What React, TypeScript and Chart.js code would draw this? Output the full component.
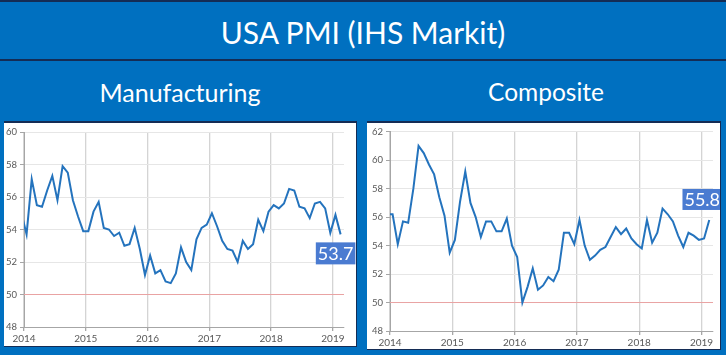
import React, { useEffect, useRef } from "react";
import { Chart, registerables } from "chart.js";

Chart.register(...registerables);

// ---- data ----
const title = "USA PMI (IHS Markit)";
const leftTitle = "Manufacturing";
const rightTitle = "Composite";

const startYear = 2013;
const startMonth = 12; // first value is Dec 2013

const manufacturing = [
  55.0,
  53.7, 57.1, 55.5, 55.4, 56.4, 57.3, 55.8, 57.9, 57.5, 55.8, 54.8, 53.9,
  53.9, 55.1, 55.7, 54.1, 54.0, 53.6, 53.8, 53.0, 53.1, 54.1, 52.8, 51.2,
  52.4, 51.3, 51.5, 50.8, 50.7, 51.3, 52.9, 52.0, 51.5, 53.4, 54.1, 54.3,
  55.0, 54.2, 53.3, 52.8, 52.7, 52.0, 53.3, 52.8, 53.1, 54.6, 53.9, 55.1,
  55.5, 55.3, 55.6, 56.5, 56.4, 55.4, 55.3, 54.7, 55.6, 55.7, 55.3, 53.8,
  54.9, 53.7,
];

const composite = [
  56.2,
  56.2, 54.1, 55.7, 55.6, 58.0, 61.0, 60.5, 59.7, 59.0, 57.4, 56.1, 53.5,
  54.4, 57.1, 59.2, 57.0, 56.0, 54.6, 55.7, 55.7, 55.0, 55.0, 55.9, 54.0,
  53.2, 50.0, 51.1, 52.4, 50.9, 51.2, 51.8, 51.5, 52.3, 54.9, 54.9, 54.1,
  55.8, 54.0, 53.0, 53.3, 53.7, 53.9, 54.6, 55.3, 54.8, 55.2, 54.5, 54.1,
  53.8, 55.8, 54.2, 54.9, 56.6, 56.2, 55.7, 54.7, 53.9, 54.9, 54.7, 54.4,
  54.5, 55.8,
];

const yearTicks = [2014, 2015, 2016, 2017, 2018, 2019];
const threshold = 50;
const leftYRange = [48, 60];
const rightYRange = [48, 62];
const xRangeLeft = [2014, 2019.18];
const xRangeRight = [2014, 2019.185];

function toPoints(values: number[]) {
  return values.map((v, i) => {
    const m = startMonth - 1 + i;
    return { x: startYear + (m + 0.5) / 12, y: v };
  });
}

const FONT = "Lato, 'Open Sans', sans-serif";

const lastLabelPlugin = {
  id: "lastLabel",
  afterDatasetsDraw(chart: any, _args: any, opts: any) {
    const meta = chart.getDatasetMeta(0);
    const pt = meta.data[meta.data.length - 1];
    const ds = chart.data.datasets[0].data;
    const val = ds[ds.length - 1].y;
    const text = val.toFixed(1);
    const ctx = chart.ctx;
    ctx.save();
    ctx.font = `${opts.fontSize}px ${FONT}`;
    const tw = ctx.measureText(text).width;
    const w = Math.max(opts.w, tw + 4);
    const h = opts.h;
    const cx = pt.x + opts.dx;
    const top = opts.above ? pt.y - opts.dy - h : pt.y + opts.dy;
    ctx.fillStyle = "#4a7bd1";
    ctx.fillRect(cx - w / 2, top, w, h);
    ctx.fillStyle = "#ffffff";
    ctx.textAlign = "center";
    ctx.textBaseline = "middle";
    ctx.fillText(text, cx, top + h / 2 + 1);
    ctx.restore();
  },
};

function makeConfig(
  values: number[],
  yRange: number[],
  xRange: number[],
  yWidth: number,
  xHeight: number,
  padding: any,
  label: any
): any {
  return {
    type: "line",
    data: {
      datasets: [
        {
          data: toPoints(values),
          borderColor: "#2473bd",
          borderWidth: 2,
          pointRadius: 0,
          tension: 0,
          fill: false,
        },
        {
          data: [
            { x: xRange[0], y: threshold },
            { x: xRange[1], y: threshold },
          ],
          borderColor: "#e9a3a3",
          borderWidth: 1,
          pointRadius: 0,
          fill: false,
        },
      ],
    },
    options: {
      animation: false,
      responsive: false,
      maintainAspectRatio: false,
      layout: { padding },
      plugins: {
        legend: { display: false },
        tooltip: { enabled: false },
        lastLabel: label,
      },
      scales: {
        x: {
          type: "linear",
          min: xRange[0],
          max: xRange[1],
          afterBuildTicks: (s: any) => {
            s.ticks = yearTicks.map((v) => ({ value: v }));
          },
          afterFit: (s: any) => {
            s.height = xHeight;
          },
          ticks: {
            autoSkip: false,
            maxRotation: 0,
            color: "#595959",
            font: { size: 10, family: FONT },
            padding: 2,
            callback: (v: any) => String(v),
          },
          grid: {
            color: "#d4d4d4",
            lineWidth: 1.3,
            tickLength: 4,
            tickColor: "#a6a6a6",
          },
          border: { color: "#a6a6a6", width: 1 },
        },
        y: {
          min: yRange[0],
          max: yRange[1],
          afterFit: (s: any) => {
            s.width = yWidth;
          },
          ticks: {
            stepSize: 2,
            color: "#595959",
            font: { size: 9.5, family: FONT },
            padding: 3,
          },
          grid: {
            color: "#e6e6e6",
            lineWidth: 1,
            tickLength: 4,
            tickColor: "#a6a6a6",
          },
          border: { color: "#a6a6a6", width: 1 },
        },
      },
    },
    plugins: [lastLabelPlugin],
  };
}

function ChartPanel(props: { config: any; width: number; height: number }) {
  const ref = useRef<HTMLCanvasElement | null>(null);
  useEffect(() => {
    if (!ref.current) return;
    const chart = new Chart(ref.current, props.config);
    return () => chart.destroy();
  }, []);
  return (
    <canvas
      ref={ref}
      width={props.width}
      height={props.height}
      style={{ width: props.width, height: props.height, display: "block" }}
    />
  );
}

export default function App() {
  const leftCfg = makeConfig(
    manufacturing,
    leftYRange,
    xRangeLeft,
    20,
    19,
    { top: 9, right: 12, left: 0, bottom: 0 },
    { dx: -5, dy: 8, w: 34, h: 22, above: false, fontSize: 18 }
  );
  const rightCfg = makeConfig(
    composite,
    rightYRange,
    xRangeRight,
    23,
    18,
    { top: 8, right: 7, left: 0, bottom: 0 },
    { dx: -7, dy: 10, w: 32, h: 21, above: true, fontSize: 18 }
  );
  const dark = "#142c55";
  return (
    <div
      style={{
        position: "fixed",
        left: 0,
        top: 0,
        width: 726,
        height: 355,
        background: "#0070c0",
        overflow: "hidden",
        fontFamily: FONT,
        color: "#ffffff",
      }}
    >
      <div style={{ position: "absolute", left: 0, top: 0, width: 726, height: 2, background: dark }} />
      <div
        style={{
          position: "absolute",
          left: 0,
          top: 12,
          width: 726,
          height: 40,
          lineHeight: "40px",
          textAlign: "center",
          fontSize: 30,
        }}
      >
        {title}
      </div>
      <div style={{ position: "absolute", left: 0, top: 59, width: 726, height: 2, background: dark }} />
      <div
        style={{
          position: "absolute",
          left: 80,
          top: 76,
          width: 200,
          height: 32,
          lineHeight: "32px",
          textAlign: "center",
          fontSize: 25,
        }}
      >
        {leftTitle}
      </div>
      <div
        style={{
          position: "absolute",
          left: 446,
          top: 76,
          width: 200,
          height: 32,
          lineHeight: "32px",
          textAlign: "center",
          fontSize: 24.5,
        }}
      >
        {rightTitle}
      </div>
      <div
        style={{
          position: "absolute",
          left: 4,
          top: 121,
          width: 352,
          height: 223,
          background: "#ffffff",
          borderTop: `2px solid ${dark}`,
          borderRight: `1px solid ${dark}`,
          borderBottom: `1px solid ${dark}`,
        }}
      >
        <ChartPanel config={leftCfg} width={352} height={223} />
      </div>
      <div
        style={{
          position: "absolute",
          left: 367,
          top: 121,
          width: 353,
          height: 226,
          background: "#ffffff",
          borderTop: `2px solid ${dark}`,
          borderRight: `1px solid ${dark}`,
          borderBottom: `1px solid ${dark}`,
        }}
      >
        <ChartPanel config={rightCfg} width={353} height={226} />
      </div>
    </div>
  );
}
